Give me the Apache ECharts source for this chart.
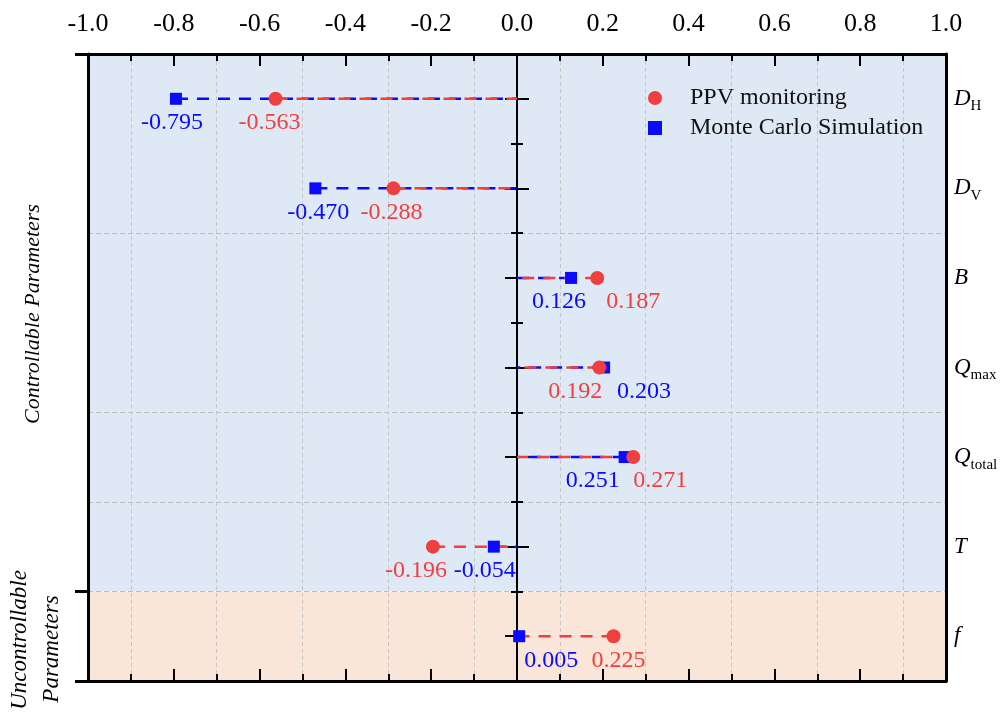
<!DOCTYPE html>
<html>
<head>
<meta charset="utf-8">
<script src="https://cdn.jsdelivr.net/npm/echarts@6/dist/echarts.min.js"></script>
<style>
  html, body { margin: 0; padding: 0; background: #fff; }
  #chart { width: 1003px; height: 715px; }
</style>
</head>
<body>
<div id="chart"></div>
<script>
// Sensitivity of each blasting parameter (correlation coefficient)
const params = ['D_H', 'D_V', 'B', 'Q_max', 'Q_total', 'T', 'f'];
const paramGroup = ['Controllable', 'Controllable', 'Controllable', 'Controllable', 'Controllable', 'Controllable', 'Uncontrollable'];
const ppvMonitoring = [-0.563, -0.288, 0.187, 0.192, 0.271, -0.196, 0.225];
const monteCarlo = [-0.795, -0.470, 0.126, 0.203, 0.251, -0.054, 0.005];

// horizontal nudges (px) keeping neighbouring value labels apart
const ppvLabelShift = [-6, -2, 36, -24, 27, -17, 5];
const mcLabelShift = [-4, 3, -12, 40, -32, -9, 32];

const SERIF = '"Liberation Serif", "Times New Roman", serif';
const RED = '#f03f3f';
const BLUE = '#0a0aff';
const groupFill = { Controllable: '#dee9f5', Uncontrollable: '#fae5d9' };

// stem from zero out to the value, dash phase starting at the marker
function stemRenderer(color) {
  return function (p, api) {
    const cat = api.value(1);
    const end = api.coord([api.value(0), cat]);
    const origin = api.coord([0, cat]);
    return {
      type: 'line',
      shape: { x1: end[0], y1: end[1], x2: origin[0], y2: origin[1] },
      style: { stroke: color, lineWidth: 2.5, lineDash: [12, 9] }
    };
  };
}

// shaded band behind each parameter row, coloured by its group
// (bands overlap by a pixel so no seam shows between rows)
function bandRenderer(p, api) {
  const cat = api.value(1);
  const left = api.coord([-1, cat]);
  const right = api.coord([1, cat]);
  const h = api.size([0, 1])[1];
  const top = left[1] - h / 2;
  const isLastOfGroup = p.dataIndex === params.length - 1 || paramGroup[p.dataIndex + 1] !== paramGroup[p.dataIndex];
  return {
    type: 'rect',
    shape: { x: left[0], y: top, width: right[0] - left[0], height: h + (isLastOfGroup ? 0 : 1) },
    style: { fill: groupFill[paramGroup[p.dataIndex]] }
  };
}

function scatterData(values, shifts) {
  return values.map((v, i) => ({ value: [v, params[i]], label: { offset: [shifts[i], 24] } }));
}

// the vertical zero line carries ticks on both sides (category centres + row boundaries)
function zeroAxis(alignWithLabel, inside, length) {
  return {
    type: 'category', data: params, inverse: true, position: 'left',
    axisLine: { show: true, onZero: true, onZeroAxisIndex: 0, lineStyle: { color: '#000', width: 1.5 } },
    axisTick: { show: true, alignWithLabel: alignWithLabel, inside: inside, length: length, lineStyle: { color: '#000', width: 2 } },
    axisLabel: { show: false },
    splitLine: { show: false }
  };
}

const xAxisBase = {
  type: 'value', min: -1, max: 1, interval: 0.2,
  axisLine: { show: true, onZero: false, lineStyle: { color: '#000', width: 3 } },
  axisTick: { show: true, inside: true, length: 12, lineStyle: { color: '#000', width: 2 } },
  minorTick: { show: true, splitNumber: 2, length: 7, lineStyle: { color: '#000', width: 2 } },
  splitLine: { show: false }
};

const option = {
  animation: false,
  backgroundColor: '#ffffff',
  grid: { left: 88, right: 57, top: 54, bottom: 34, containLabel: false },
  legend: {
    orient: 'vertical', left: 643, top: 81,
    itemWidth: 14, itemHeight: 14, itemGap: 6, selectedMode: false,
    data: [
      { name: 'PPV monitoring', icon: 'circle' },
      { name: 'Monte Carlo Simulation', icon: 'rect' }
    ],
    textStyle: { fontFamily: SERIF, fontSize: 24, lineHeight: 24, color: '#111', padding: [0, 0, 0, 23] }
  },
  xAxis: [
    Object.assign({}, xAxisBase, {
      position: 'top',
      axisLabel: { margin: 17, fontSize: 26, color: '#000', fontFamily: SERIF, formatter: v => v.toFixed(1) },
      minorSplitLine: { show: true, lineStyle: { color: '#c6c6c6', type: [4, 3], width: 1 } }
    }),
    Object.assign({}, xAxisBase, {
      position: 'bottom',
      axisLabel: { show: false },
      minorSplitLine: { show: false }
    })
  ],
  yAxis: [
    zeroAxis(true, false, 12),
    zeroAxis(true, true, 12),
    zeroAxis(false, false, 6),
    zeroAxis(false, true, 6),
    {
      type: 'category', data: params, inverse: true, position: 'left',
      axisLine: { show: true, onZero: false, lineStyle: { color: '#000', width: 3 } },
      axisTick: { show: true, length: 13, interval: (i) => i === 0 || i === 6, lineStyle: { color: '#000', width: 3 } },
      axisLabel: { show: false },
      splitLine: {
        show: true,
        interval: (i) => [2, 4, 5, 6].includes(i),
        lineStyle: { color: '#bdbdbd', type: [5, 3], width: 1 }
      }
    },
    {
      type: 'category', data: params, inverse: true, position: 'right',
      axisLine: { show: true, onZero: false, lineStyle: { color: '#000', width: 3 } },
      axisTick: { show: false },
      splitLine: { show: false },
      axisLabel: {
        margin: 8,
        formatter: (name) => {
          const parts = name.split('_');
          return parts[1] ? '{sym|' + parts[0] + '}{sub|' + parts[1] + '}' : '{sym|' + parts[0] + '}';
        },
        rich: {
          sym: { fontFamily: SERIF, fontStyle: 'italic', fontSize: 23, color: '#000', lineHeight: 30, verticalAlign: 'middle' },
          sub: { fontFamily: SERIF, fontSize: 15, color: '#000', lineHeight: 15, verticalAlign: 'bottom' }
        }
      }
    }
  ],
  series: [
    {
      type: 'custom', name: 'bands', z: -1, silent: true,
      xAxisIndex: 0, yAxisIndex: 0,
      encode: { x: 0, y: 1 },
      data: params.map(p => [0, p]),
      renderItem: bandRenderer
    },
    {
      type: 'custom', name: 'mcStem', z: 2, silent: true,
      xAxisIndex: 0, yAxisIndex: 0,
      encode: { x: 0, y: 1 },
      data: monteCarlo.map((v, i) => [v, params[i]]),
      renderItem: stemRenderer(BLUE)
    },
    {
      type: 'custom', name: 'ppvStem', z: 2, silent: true,
      xAxisIndex: 0, yAxisIndex: 0,
      encode: { x: 0, y: 1 },
      data: ppvMonitoring.map((v, i) => [v, params[i]]),
      renderItem: stemRenderer(RED)
    },
    {
      type: 'scatter', name: 'Monte Carlo Simulation', z: 3,
      xAxisIndex: 0, yAxisIndex: 0,
      symbol: 'rect', symbolSize: 12,
      itemStyle: { color: BLUE, opacity: 1 },
      label: {
        show: true, position: 'inside', color: BLUE, fontFamily: SERIF, fontSize: 24,
        formatter: p => p.value[0].toFixed(3)
      },
      emphasis: { disabled: true },
      data: scatterData(monteCarlo, mcLabelShift)
    },
    {
      type: 'scatter', name: 'PPV monitoring', z: 3,
      xAxisIndex: 0, yAxisIndex: 0,
      symbol: 'circle', symbolSize: 14,
      itemStyle: { color: RED, opacity: 1 },
      label: {
        show: true, position: 'inside', color: RED, fontFamily: SERIF, fontSize: 24,
        formatter: p => p.value[0].toFixed(3)
      },
      emphasis: { disabled: true },
      data: scatterData(ppvMonitoring, ppvLabelShift)
    }
  ],
  graphic: [
    {
      type: 'text', x: 33, y: 314, rotation: Math.PI / 2,
      style: { text: 'Controllable Parameters', font: 'italic 22px "Liberation Serif"', fill: '#000', align: 'center', verticalAlign: 'middle' }
    },
    {
      type: 'text', x: 20, y: 640, rotation: Math.PI / 2,
      style: { text: 'Uncontrollable', font: 'italic 23px "Liberation Serif"', fill: '#000', align: 'center', verticalAlign: 'middle' }
    },
    {
      type: 'text', x: 52, y: 649, rotation: Math.PI / 2,
      style: { text: 'Parameters', font: 'italic 23px "Liberation Serif"', fill: '#000', align: 'center', verticalAlign: 'middle' }
    }
  ]
};

const chart = echarts.init(document.getElementById('chart'), null, { renderer: 'canvas' });
chart.setOption(option);
</script>
</body>
</html>
